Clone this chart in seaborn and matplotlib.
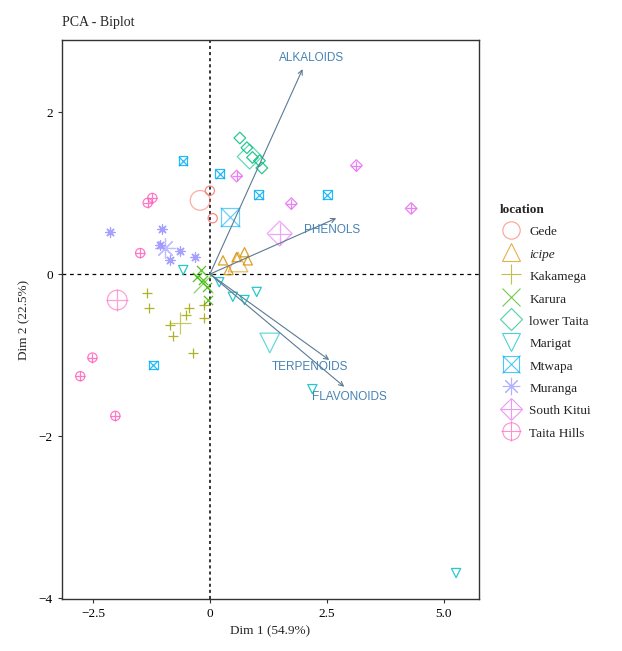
import matplotlib
matplotlib.use("Agg")
import matplotlib.pyplot as plt
from matplotlib.lines import Line2D
from matplotlib.legend_handler import HandlerTuple
import seaborn as sns
import pandas as pd

# ---- individuals (PCA scores) per location ----
locations = ["Gede", "icipe", "Kakamega", "Karura", "lower Taita",
             "Marigat", "Mtwapa", "Muranga", "South Kitui", "Taita Hills"]

gede_x = [0.00, 0.06]
gede_y = [1.03, 0.69]
icipe_x = [0.28, 0.57, 0.74, 0.81, 0.40]
icipe_y = [0.17, 0.21, 0.27, 0.17, 0.05]
kakamega_x = [-1.34, -1.30, -0.51, -0.45, -0.13, -0.13, -0.79, -0.36, -0.85]
kakamega_y = [-0.23, -0.42, -0.50, -0.42, -0.38, -0.54, -0.77, -0.97, -0.63]
karura_x = [-0.28, -0.15, -0.06, -0.20, -0.04]
karura_y = [-0.04, -0.07, -0.16, 0.05, -0.32]
lowertaita_x = [0.64, 0.79, 0.91, 1.06, 1.11]
lowertaita_y = [1.68, 1.56, 1.44, 1.40, 1.31]
marigat_x = [-0.57, 0.20, 0.49, 0.74, 1.00, 2.19, 5.26]
marigat_y = [0.05, -0.10, -0.28, -0.32, -0.22, -1.42, -3.69]
mtwapa_x = [-0.57, 0.21, 1.04, 2.51, -1.21]
mtwapa_y = [1.40, 1.24, 0.98, 0.98, -1.12]
muranga_x = [-2.13, -1.02, -0.64, -0.32, -0.85, -1.06]
muranga_y = [0.52, 0.56, 0.29, 0.21, 0.17, 0.36]
southkitui_x = [0.57, 1.74, 3.13, 4.30]
southkitui_y = [1.21, 0.87, 1.34, 0.81]
taitahills_x = [-1.49, -1.23, -1.33, -2.51, -2.77, -2.02]
taitahills_y = [0.26, 0.94, 0.88, -1.03, -1.26, -1.75]

# group mean points
mean_x = [-0.21, 0.60, -0.64, -0.15, 0.85, 1.28, 0.43, -0.96, 1.49, -1.98]
mean_y = [0.91, 0.15, -0.60, -0.11, 1.45, -0.85, 0.70, 0.32, 0.50, -0.32]

# ---- variables (loadings) ----
variables = ["ALKALOIDS", "PHENOLS", "TERPENOIDS", "FLAVONOIDS"]
var_x = [1.98, 2.70, 2.55, 2.87]
var_y = [2.53, 0.69, -1.06, -1.39]
var_label_x = [2.17, 2.60, 2.13, 2.98]
var_label_y = [2.67, 0.54, -1.15, -1.52]

xs = [gede_x, icipe_x, kakamega_x, karura_x, lowertaita_x,
      marigat_x, mtwapa_x, muranga_x, southkitui_x, taitahills_x]
ys = [gede_y, icipe_y, kakamega_y, karura_y, lowertaita_y,
      marigat_y, mtwapa_y, muranga_y, southkitui_y, taitahills_y]

ind = pd.concat([pd.DataFrame({"x": x, "y": y, "location": loc})
                 for loc, x, y in zip(locations, xs, ys)], ignore_index=True)
means = pd.DataFrame({"x": mean_x, "y": mean_y, "location": locations})

palette = sns.color_palette(["#F8766D", "#D89000", "#A3A500", "#39B600", "#00BF7D",
                             "#00BFC4", "#00B0F6", "#9590FF", "#E76BF3", "#FF62BC"])
colors = dict(zip(locations, palette))

# R-style point shapes (pch 1..10), composites drawn as layered markers
shapes = {
    "Gede": [("o", True)],
    "icipe": [("^", True)],
    "Kakamega": [("+", False)],
    "Karura": [("x", False)],
    "lower Taita": [("D", True)],
    "Marigat": [("v", True)],
    "Mtwapa": [("s", True), ("x", False)],
    "Muranga": [((8, 2, 0), False)],
    "South Kitui": [("D", True), ("+", False)],
    "Taita Hills": [("o", True), ("+", False)],
}
size_scale = {"o": 1.0, "^": 1.0, "+": 1.3, "x": 1.0, "D": 0.8, "v": 1.0, "s": 0.85}


def scale_of(mk):
    return size_scale.get(mk if isinstance(mk, str) else "x", 1.0)


sns.set_theme(style="white")
plt.rcParams["font.family"] = ["Liberation Serif", "DejaVu Serif"]

fig = plt.figure(figsize=(6.22, 6.51), dpi=100)
ax = fig.add_axes([0.0997, 0.0799, 0.6704, 0.8587])

ax.axhline(0, color="black", lw=0.9, ls=(0, (3, 3)), zorder=1)
ax.axvline(0, color="black", lw=1.1, ls=(0, (2, 2)), zorder=1)


def draw(df, base_size, lw, alpha):
    for loc in locations:
        sub = df[df["location"] == loc]
        c = colors[loc]
        for mk, hollow in shapes[loc]:
            s = base_size * scale_of(mk)
            if hollow:
                sns.scatterplot(data=sub, x="x", y="y", ax=ax, marker=mk, s=s,
                                facecolors="none", edgecolors=c, linewidths=lw,
                                alpha=alpha, legend=False, zorder=3)
            else:
                sns.scatterplot(data=sub, x="x", y="y", ax=ax, marker=mk, s=s,
                                color=c, linewidths=lw, alpha=alpha,
                                legend=False, zorder=3)


draw(ind, 44, 0.9, 0.85)
draw(means, 200, 0.9, 0.6)

# variable arrows
for name, vx, vy, lx, ly in zip(variables, var_x, var_y, var_label_x, var_label_y):
    ax.annotate("", xy=(vx, vy), xytext=(0, 0),
                arrowprops=dict(arrowstyle="->", color="#5B7A95", lw=0.8,
                                shrinkA=0, shrinkB=0, mutation_scale=8), zorder=4)
    ax.text(lx, ly, name, color="#4682B4", fontsize=8.5, ha="center", va="center",
            family=["Liberation Sans", "DejaVu Sans"], zorder=5)

ax.set_xlim(-3.16, 5.75)
ax.set_ylim(-4.01, 2.89)
ax.set_xticks([-2.5, 0, 2.5, 5.0])
ax.set_xticklabels(["\u22122.5", "0", "2.5", "5.0"])
ax.set_yticks([-4, -2, 0, 2])
ax.set_yticklabels(["\u22124", "\u22122", "0", "2"])
ax.tick_params(axis="both", labelsize=9.5, length=3, width=0.8, colors="#333333",
               direction="out", bottom=True, left=True)
for lab in ax.get_xticklabels() + ax.get_yticklabels():
    lab.set_color("black")
for sp in ax.spines.values():
    sp.set_color("#333333")
    sp.set_linewidth(1.0)

ax.set_xlabel("Dim 1 (54.9%)", fontsize=9.5, labelpad=4)
ax.set_ylabel("Dim 2 (22.5%)", fontsize=9.5, labelpad=6)
fig.text(0.0997, 0.965, "PCA - Biplot", fontsize=10, ha="left", va="center")

# legend with layered shapes
handles = []
for loc in locations:
    c = colors[loc]
    parts = []
    for mk, hollow in shapes[loc]:
        ms = 12.5 * (scale_of(mk) ** 0.5)
        if hollow:
            parts.append(Line2D([], [], ls="none", marker=mk, markersize=ms,
                                markerfacecolor="none", markeredgecolor=c,
                                markeredgewidth=0.8, alpha=0.7))
        else:
            parts.append(Line2D([], [], ls="none", marker=mk, markersize=ms,
                                color=c, markeredgewidth=0.8, alpha=0.7))
    handles.append(tuple(parts))

leg = fig.legend(handles, locations, title="location", loc="upper left",
                 bbox_to_anchor=(0.785, 0.705), frameon=False, fontsize=9.5,
                 title_fontsize=9.5,
                 handler_map={tuple: HandlerTuple(ndivide=1, pad=0)},
                 handlelength=1.6, handleheight=1.2, handletextpad=0.6,
                 labelspacing=0.62, alignment="left")
leg.get_title().set_fontweight("bold")
for t in leg.get_texts():
    if t.get_text() == "icipe":
        t.set_style("italic")

fig.savefig("out.png", dpi=100)
